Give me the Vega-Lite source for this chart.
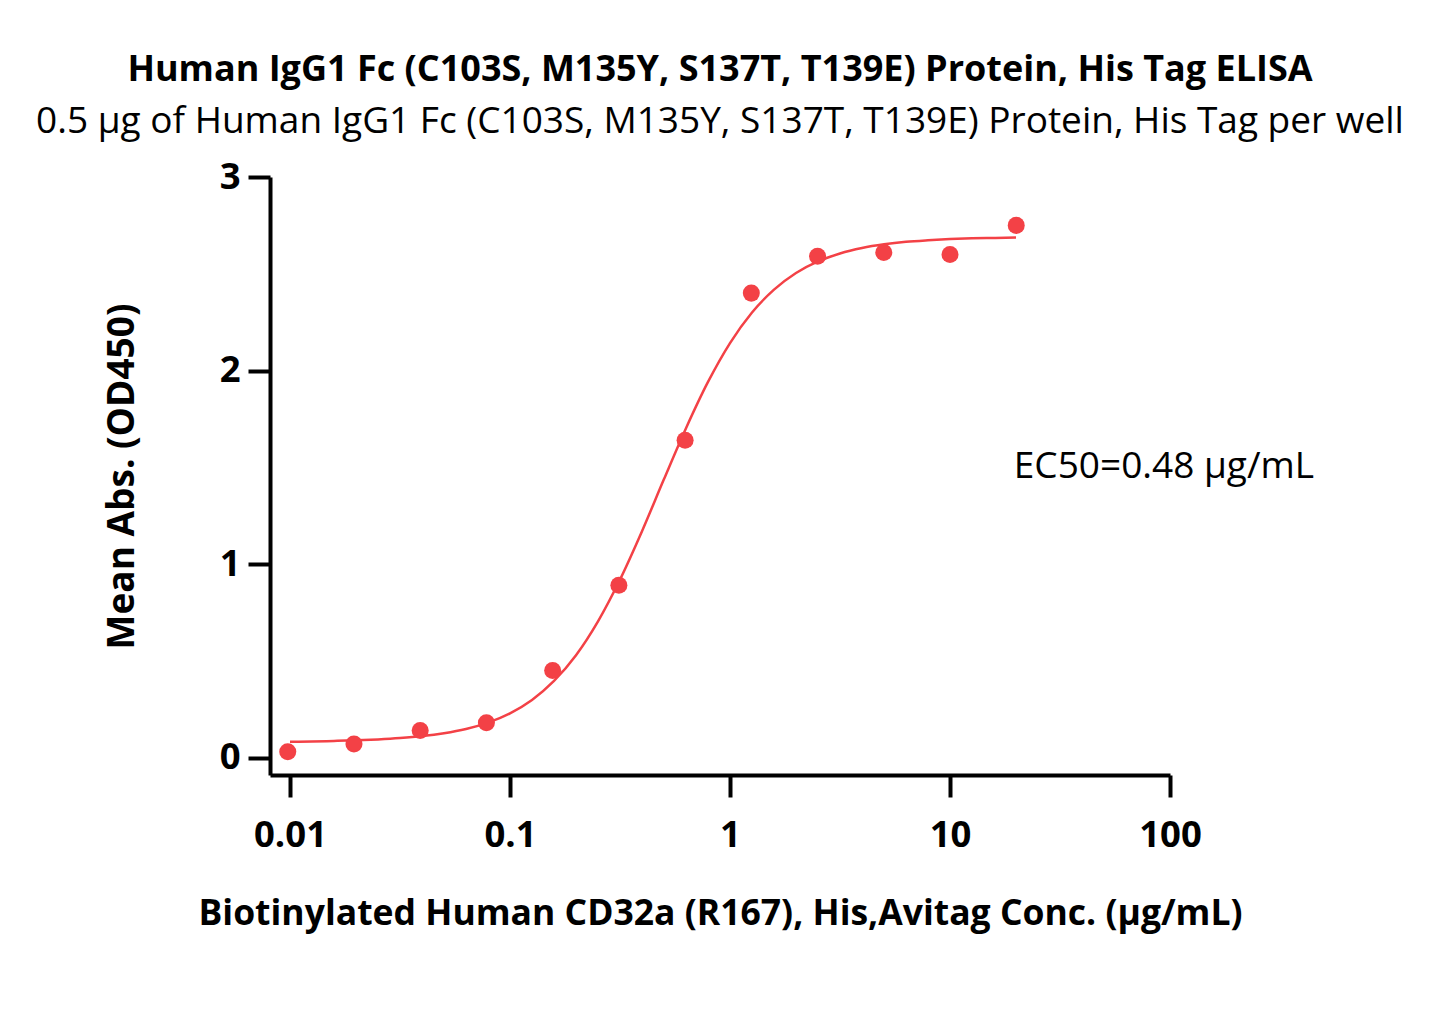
{
  "$schema": "https://vega.github.io/schema/vega-lite/v6.json",
  "autosize": "none",
  "width": 900,
  "height": 598,
  "padding": {"left": 270, "top": 177, "right": 273, "bottom": 257},
  "background": "white",
  "config": {
    "font": "Open Sans",
    "view": {"stroke": null},
    "axis": {"grid": false, "labelFlush": false, "domainColor": "black", "tickColor": "black", "labelColor": "black", "titleColor": "black"}
  },
  "title": {
    "text": "Human IgG1 Fc (C103S, M135Y, S137T, T139E) Protein, His Tag ELISA",
    "subtitle": "0.5 μg of Human IgG1 Fc (C103S, M135Y, S137T, T139E) Protein, His Tag per well",
    "anchor": "middle",
    "frame": "group",
    "font": "Open Sans",
    "fontSize": 36,
    "fontWeight": "bold",
    "color": "black",
    "subtitleFont": "Open Sans",
    "subtitleFontSize": 37,
    "subtitleFontWeight": "normal",
    "subtitleColor": "black",
    "subtitlePadding": 15,
    "offset": 18
  },
  "datasets": {
    "points": [
      {"conc": 0.009766, "abs": 0.03},
      {"conc": 0.01953, "abs": 0.07},
      {"conc": 0.03906, "abs": 0.14},
      {"conc": 0.07813, "abs": 0.18},
      {"conc": 0.15625, "abs": 0.45},
      {"conc": 0.3125, "abs": 0.89},
      {"conc": 0.625, "abs": 1.64},
      {"conc": 1.25, "abs": 2.40},
      {"conc": 2.5, "abs": 2.59},
      {"conc": 5, "abs": 2.61},
      {"conc": 10, "abs": 2.60},
      {"conc": 20, "abs": 2.75}
    ],
    "curve": [
      {"conc": 0.01, "abs": 0.082},
      {"conc": 0.012589, "abs": 0.083},
      {"conc": 0.015849, "abs": 0.086},
      {"conc": 0.019953, "abs": 0.089},
      {"conc": 0.025119, "abs": 0.094},
      {"conc": 0.031623, "abs": 0.101},
      {"conc": 0.039811, "abs": 0.111},
      {"conc": 0.050119, "abs": 0.126},
      {"conc": 0.063096, "abs": 0.148},
      {"conc": 0.079433, "abs": 0.181},
      {"conc": 0.1, "abs": 0.229},
      {"conc": 0.12589, "abs": 0.298},
      {"conc": 0.15849, "abs": 0.396},
      {"conc": 0.19953, "abs": 0.529},
      {"conc": 0.25119, "abs": 0.704},
      {"conc": 0.31623, "abs": 0.920},
      {"conc": 0.39811, "abs": 1.170},
      {"conc": 0.50119, "abs": 1.439},
      {"conc": 0.63096, "abs": 1.702},
      {"conc": 0.79433, "abs": 1.941},
      {"conc": 1, "abs": 2.142},
      {"conc": 1.2589, "abs": 2.300},
      {"conc": 1.5849, "abs": 2.418},
      {"conc": 1.9953, "abs": 2.504},
      {"conc": 2.5119, "abs": 2.564},
      {"conc": 3.1623, "abs": 2.605},
      {"conc": 3.9811, "abs": 2.633},
      {"conc": 5.0119, "abs": 2.652},
      {"conc": 6.3096, "abs": 2.665},
      {"conc": 7.9433, "abs": 2.673},
      {"conc": 10, "abs": 2.679},
      {"conc": 12.589, "abs": 2.683},
      {"conc": 15.849, "abs": 2.685},
      {"conc": 19.953, "abs": 2.687}
    ],
    "note": [
      {"conc": 19.5, "abs": 1.5, "label": "EC50=0.48 μg/mL"}
    ]
  },
  "encoding": {
    "x": {
      "field": "conc",
      "type": "quantitative",
      "scale": {"type": "log", "domain": [0.00811, 100], "nice": false},
      "axis": {
        "title": "Biotinylated Human CD32a (R167), His,Avitag Conc. (μg/mL)",
        "values": [0.01, 0.1, 1, 10, 100],
        "labelExpr": "format(datum.value, '~g')",
        "labelFlush": false,
        "domainWidth": 4,
        "tickWidth": 4,
        "tickSize": 22,
        "labelPadding": 20,
        "labelFont": "Open Sans",
        "labelFontSize": 36.5,
        "labelFontWeight": "bold",
        "titleFont": "Open Sans",
        "titleFontSize": 35.5,
        "titleFontWeight": "bold",
        "titlePadding": 43
      }
    },
    "y": {
      "field": "abs",
      "type": "quantitative",
      "scale": {"domain": [-0.09, 3], "nice": false, "zero": false},
      "axis": {
        "title": "Mean Abs. (OD450)",
        "values": [0, 1, 2, 3],
        "labelFlush": false,
        "domainWidth": 4,
        "tickWidth": 4,
        "tickSize": 22,
        "labelPadding": 8,
        "labelFont": "Open Sans",
        "labelFontSize": 36.5,
        "labelFontWeight": "bold",
        "titleFont": "Open Sans",
        "titleFontSize": 37,
        "titleFontWeight": "bold",
        "titlePadding": 78
      }
    }
  },
  "layer": [
    {
      "data": {"name": "curve"},
      "mark": {"type": "line", "color": "#F34146", "strokeWidth": 2.5, "interpolate": "monotone"}
    },
    {
      "data": {"name": "points"},
      "mark": {"type": "circle", "color": "#F34146", "opacity": 1, "size": 290}
    },
    {
      "data": {"name": "note"},
      "mark": {"type": "text", "align": "left", "baseline": "middle", "font": "Open Sans", "fontSize": 37, "color": "black"},
      "encoding": {"text": {"field": "label"}}
    }
  ]
}
